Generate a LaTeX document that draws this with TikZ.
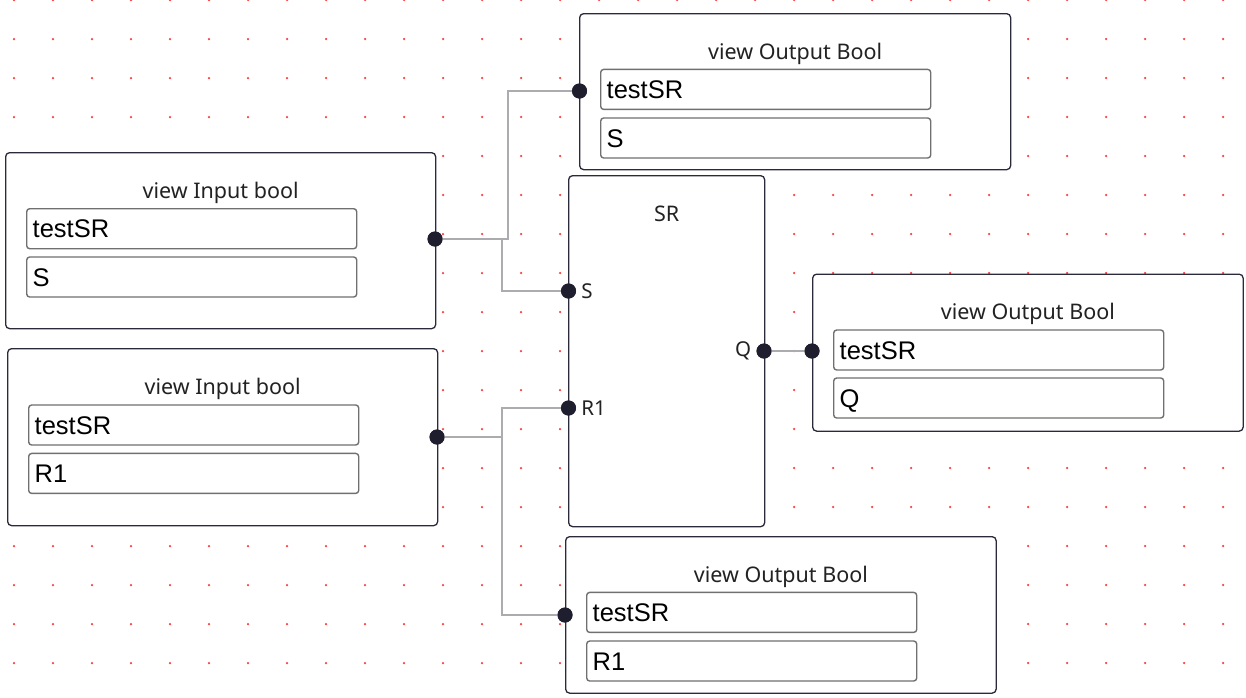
\documentclass[tikz,border=0pt]{standalone}
\usepackage{fontspec}
\usepackage{tikz}
\usetikzlibrary{positioning}
\newfontfamily\titlefont{Noto Sans}
\newfontfamily\fieldfont{Liberation Sans}
\definecolor{gridred}{HTML}{FF3C3C}
\definecolor{boxline}{HTML}{2A2A3A}
\definecolor{fieldline}{HTML}{707070}
\definecolor{portc}{HTML}{1E1E2E}
\definecolor{wirec}{HTML}{ACACB0}
\definecolor{titletext}{HTML}{222222}
\tikzset{
  viewbox/.style={draw=boxline, fill=white, rounded corners=4pt, line width=1.3pt, inner sep=0pt, anchor=north west},
  field/.style={draw=fieldline, fill=white, rounded corners=3pt, line width=1.4pt, minimum height=40pt, text width=318pt, inner xsep=6pt, inner ysep=0pt, align=left, text height=18pt, text depth=0pt, anchor=north west, font=\fieldfont\fontsize{25.5}{28}\selectfont},
  boxtitle/.style={anchor=base, text=titletext, font=\titlefont\fontsize{21.5}{24}\selectfont},
  port/.style={circle, fill=portc, inner sep=0pt, minimum size=15pt},
  portlabel/.style={text=titletext, inner sep=5pt, font=\titlefont\fontsize{20.5}{23}\selectfont},
  wire/.style={draw=wirec, line width=2.5pt},
}
\begin{document}
\begin{tikzpicture}[x=1pt, y=-1pt]
\useasboundingbox (0,0) rectangle (1246,697);
\fill[white] (0,0) rectangle (1246,697);
% dotted grid
\foreach \i in {0,...,31}
  \foreach \j in {0,...,17}
    \fill[gridred] (14+39*\i, 39*\j) circle (1.25pt);

% input blocks
\node[viewbox, minimum width=430pt, minimum height=176pt] (in1) at (5,152) {};
\node[boxtitle] at ([shift={(0,46.3)}]in1.north) {view Input bool};
\node[field] (in1a) at ([shift={(21,56)}]in1.north west) {testSR};
\node[field] (in1b) at ([shift={(21,104.3)}]in1.north west) {S};

\node[viewbox, minimum width=430pt, minimum height=177pt] (in2) at (7,348) {};
\node[boxtitle] at ([shift={(0,46.3)}]in2.north) {view Input bool};
\node[field] (in2a) at ([shift={(21,56.3)}]in2.north west) {testSR};
\node[field] (in2b) at ([shift={(21,104.7)}]in2.north west) {R1};

% SR block
\node[viewbox, minimum width=196pt, minimum height=351pt] (sr) at (568,175) {};
\node[boxtitle] at ([shift={(0,46)}]sr.north) {SR};

% output blocks
\node[viewbox, minimum width=431pt, minimum height=156pt] (out1) at (579,13) {};
\node[boxtitle] at ([shift={(0,46.3)}]out1.north) {view Output Bool};
\node[field] (out1a) at ([shift={(21,55.7)}]out1.north west) {testSR};
\node[field] (out1b) at ([shift={(21,104.3)}]out1.north west) {S};

\node[viewbox, minimum width=430.5pt, minimum height=157pt] (out2) at (812,273.5) {};
\node[boxtitle] at ([shift={(0,46.3)}]out2.north) {view Output Bool};
\node[field] (out2a) at ([shift={(21,55.8)}]out2.north west) {testSR};
\node[field] (out2b) at ([shift={(21,103.8)}]out2.north west) {Q};

\node[viewbox, minimum width=430.5pt, minimum height=156.5pt] (out3) at (565,536) {};
\node[boxtitle] at ([shift={(0,46.3)}]out3.north) {view Output Bool};
\node[field] (out3a) at ([shift={(21,55.7)}]out3.north west) {testSR};
\node[field] (out3b) at ([shift={(21,104.3)}]out3.north west) {R1};

% ports
\node[port] (in1p) at (435,239) {};
\node[port] (in2p) at (437,437) {};
\node[port] (srS) at (568.5,291) {};
\node[port] (srR) at (568.5,408) {};
\node[port] (srQ) at (764,351) {};
\node[port] (out1p) at (579.5,91) {};
\node[port] (out2p) at (812,351) {};
\node[port] (out3p) at (565,615) {};
\node[portlabel, right=0pt of srS] {S};
\node[portlabel, right=0pt of srR] {R1};
\node[portlabel, left=0pt of srQ] {Q};

% wires
\draw[wire] (in1p.center) -- ++(73,0) |- (out1p.center);
\draw[wire] (in1p.center) -- ++(67,0) |- (srS.center);
\draw[wire] (in2p.center) -- ++(65,0) |- (srR.center);
\draw[wire] (in2p.center) ++(65,0) |- (out3p.center);
\draw[wire] (srQ.center) -- (out2p.center);
% dots again on top of wires
\foreach \p in {in1p,in2p,srS,srR,srQ,out1p,out2p,out3p}
  \fill[portc] (\p) circle (7.5pt);
\end{tikzpicture}
\end{document}
